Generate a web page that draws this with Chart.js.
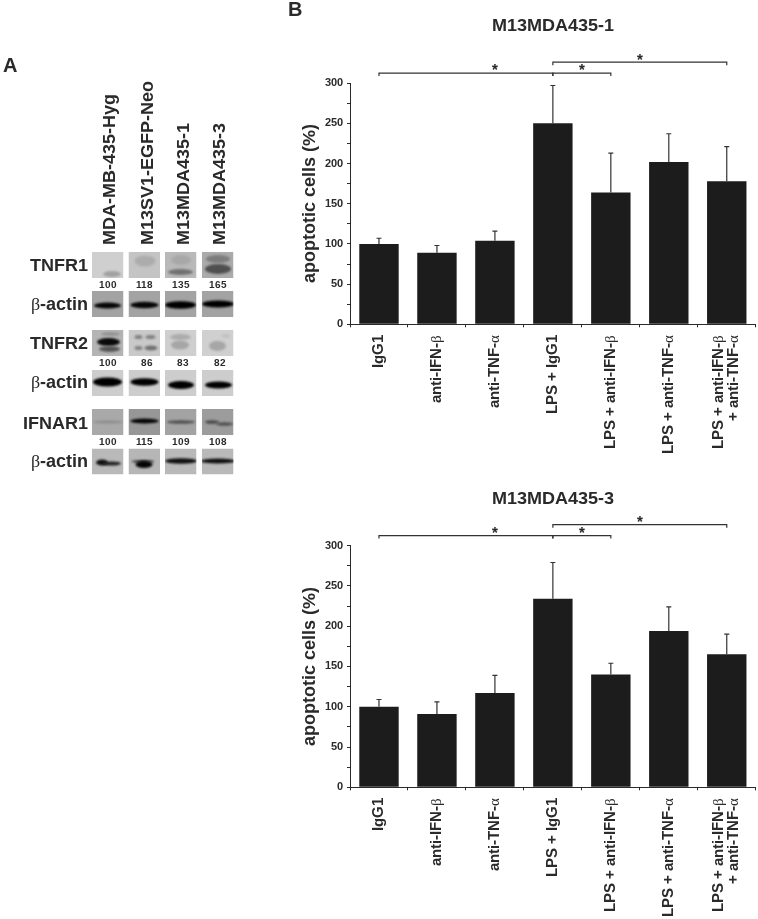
<!DOCTYPE html>
<html>
<head>
<meta charset="utf-8">
<title>Apoptotic cells</title>
<script src="https://cdn.jsdelivr.net/npm/chart.js@4"></script>
<style>
    /* Latin from Liberation Sans Bold, greek letters thin like the symbol font of the figure */
    @font-face { font-family: "MixSans"; font-weight: bold; src: local("Liberation Sans Bold"); }
    @font-face { font-family: "MixSans"; font-weight: bold; src: local("Liberation Serif"); unicode-range: U+0370-03FF; }
    html, body { margin: 0; padding: 0; background: #fff; }
    #page { position: relative; width: 758px; height: 919px; overflow: hidden; color: #2a2a2a;
            font-family: "MixSans", "Liberation Sans", Arial, sans-serif; font-weight: bold; }
    #page canvas { position: absolute; }
    .txt { position: absolute; white-space: nowrap; }
    .panel { font-size: 20px; line-height: 20px; }
    .lane { writing-mode: vertical-rl; transform: rotate(180deg); font-size: 18px; line-height: 20px; width: 20px; bottom: 674px; }
    .row { font-size: 18px; line-height: 20px; right: 670px; }
    .num { font-size: 10.4px; line-height: 12px; transform: translateX(-50%); }
</style>
</head>
<body>
<div id="page">
    <canvas id="blots" width="250" height="500" style="left:0;top:0"></canvas>
    <canvas id="chartTop" style="left:280px;top:0"></canvas>
    <canvas id="chartBottom" style="left:280px;top:470px"></canvas>
    <div class="txt panel" style="left:3px;top:55px">A</div>
    <div class="txt panel" style="left:288px;top:-1px">B</div>
</div>
<script>
// Panel B data
const categories = ['IgG1', 'anti-IFN-β', 'anti-TNF-α', 'LPS + IgG1', 'LPS + anti-IFN-β', 'LPS + anti-TNF-α',
    ['LPS + anti-IFN-β', '+ anti-TNF-α']];
const valuesTop = [100, 89, 104, 250, 164, 202, 178];
const errorsTop = [7, 9, 12, 47, 49, 35, 43];
const valuesBottom = [100, 91, 117, 234, 140, 194, 165];
const errorsBottom = [9, 15, 22, 45, 14, 30, 25];
const labeledTicks = [0, 50, 100, 150, 200, 250, 300];
// from index, to index, level on the y axis
const brackets = [[0, 3, 312.5], [3, 4, 312.5], [3, 6, 326]];
// star position on the x axis, level on the y axis
const stars = [[2, 315], [3.5, 315], [4.5, 328]];

// Panel A data
const laneNames = ['MDA-MB-435-Hyg', 'M13SV1-EGFP-Neo', 'M13MDA435-1', 'M13MDA435-3'];
const densityTnfr1 = [100, 118, 135, 165];
const densityTnfr2 = [100, 86, 83, 82];
const densityIfnar1 = [100, 115, 109, 108];

const inkColor = '#2a2a2a';
const barColor = '#1c1c1c';
const mixFont = '"MixSans", "Liberation Sans", Arial, sans-serif';
const xFontSize = 14.5;
const xLineHeight = 1.02;

// Error bars, brackets and stars
const annotations = {
    id: 'annotations',
    beforeDraw(chart) {
        // Chart.js hangs extra lines of a rotated label to the right of the tick, center them instead
        chart.scales.x.getLabelItems().forEach(item => {
            if (Array.isArray(item.label) && !item.centered) {
                item.options.translation[0] -= (item.label.length - 1) * xFontSize * xLineHeight / 2;
                item.centered = true;
            }
        });
    },
    afterDatasetsDraw(chart, args, opts) {
        const ctx = chart.ctx;
        const x = chart.scales.x;
        const y = chart.scales.y;
        ctx.save();
        ctx.strokeStyle = '#333';
        ctx.lineWidth = 1.2;
        opts.errors.forEach((err, i) => {
            const px = x.getPixelForValue(i);
            const top = y.getPixelForValue(opts.values[i] + err);
            ctx.beginPath();
            ctx.moveTo(px, y.getPixelForValue(opts.values[i]));
            ctx.lineTo(px, top);
            ctx.moveTo(px - 2.5, top);
            ctx.lineTo(px + 2.5, top);
            ctx.stroke();
        });
        brackets.forEach(b => {
            const x0 = x.getPixelForValue(b[0]);
            const x1 = x.getPixelForValue(b[1]);
            const py = y.getPixelForValue(b[2]);
            ctx.beginPath();
            ctx.moveTo(x0, py + 3);
            ctx.lineTo(x0, py);
            ctx.lineTo(x1, py);
            ctx.lineTo(x1, py + 3);
            ctx.stroke();
        });
        ctx.fillStyle = inkColor;
        ctx.font = 'bold 15px ' + mixFont;
        ctx.textAlign = 'center';
        ctx.textBaseline = 'middle';
        stars.forEach(s => {
            ctx.fillText('*', x.getPixelForValue(s[0]), y.getPixelForValue(s[1]));
        });
        ctx.restore();
    }
};

function makeChart(id, title, values, errors, width, height, titlePad, axisHeight) {
    const canvas = document.getElementById(id);
    canvas.width = width;
    canvas.height = height;
    return new Chart(canvas, {
        type: 'bar',
        data: {
            labels: categories,
            datasets: [{
                data: values,
                backgroundColor: barColor,
                borderWidth: 0,
                barPercentage: 0.68,
                categoryPercentage: 1
            }]
        },
        options: {
            responsive: false,
            animation: false,
            layout: { padding: { right: 3 } },
            plugins: {
                legend: { display: false },
                tooltip: { enabled: false },
                title: {
                    display: true,
                    text: title,
                    fullSize: false,
                    color: inkColor,
                    font: { family: mixFont, size: 18, weight: 'bold' },
                    padding: titlePad
                },
                annotations: { values, errors }
            },
            scales: {
                x: {
                    afterFit: scale => { scale.height = axisHeight; },
                    border: { color: inkColor, width: 1 },
                    grid: { offset: true, drawOnChartArea: false, tickLength: 3, tickColor: inkColor },
                    ticks: {
                        autoSkip: false,
                        minRotation: 90,
                        maxRotation: 90,
                        padding: 8,
                        color: inkColor,
                        font: { family: mixFont, size: xFontSize, weight: 'bold', lineHeight: xLineHeight }
                    }
                },
                y: {
                    min: 0,
                    max: 300,
                    afterFit: scale => { scale.width = 70; },
                    border: { color: inkColor, width: 1 },
                    grid: { drawOnChartArea: false, tickLength: 3, tickColor: inkColor },
                    title: {
                        display: true,
                        text: 'apoptotic cells (%)',
                        color: inkColor,
                        font: { family: mixFont, size: 18.3, weight: 'bold' },
                        padding: { top: 19, bottom: 0 }
                    },
                    ticks: {
                        stepSize: 25,
                        autoSkip: false,
                        padding: 4,
                        color: inkColor,
                        font: { family: mixFont, size: 11, weight: 'bold' },
                        callback: v => labeledTicks.includes(v) ? v : ''
                    }
                }
            }
        },
        plugins: [annotations]
    });
}

// canvases run a little past the page edge, the last rotated label reserves room on the right
const charts = [
    makeChart('chartTop', 'M13MDA435-1', valuesTop, errorsTop, 485, 470, { top: 15, bottom: 46.5 }, 145.7),
    makeChart('chartBottom', 'M13MDA435-3', valuesBottom, errorsBottom, 485, 449, { top: 18, bottom: 36 }, 131.7)
];

// Panel A text
const page = document.getElementById('page');
function addText(cls, text, style) {
    const el = document.createElement('div');
    el.className = 'txt ' + cls;
    el.textContent = text;
    el.style.cssText = style;
    page.appendChild(el);
}
[109, 147, 183, 219].forEach((x, i) => addText('lane', laneNames[i], `left:${x - 10}px`));
[['TNFR1', 255], ['β-actin', 294], ['TNFR2', 333], ['β-actin', 372], ['IFNAR1', 413], ['β-actin', 451]].forEach(r => {
    addText('row', r[0], `top:${r[1]}px`);
});
[107.7, 144.5, 181, 217.5].forEach((x, i) => addText('num', densityTnfr1[i], `left:${x}px;top:279px`));
[107.7, 146.7, 183, 220].forEach((x, i) => addText('num', densityTnfr2[i], `left:${x}px;top:357px`));
[107.7, 144.7, 181, 217.7].forEach((x, i) => addText('num', densityIfnar1[i], `left:${x}px;top:436px`));

// Panel A western blots: the photographs are sketched as blurred bands
const blotColumns = [92, 128.5, 165, 202];
const blotRows = [
    { top: 252, cells: [
        ['#cfcfcf', [[11, 29, 22, 6, '#a0a0a0']]],
        ['#c4c4c4', [[6, 27, 9, 11, '#acacac']]],
        ['#b9b9b9', [[3, 28, 20, 6, '#707070'], [6, 26, 8, 10, '#a8a8a8']]],
        ['#ababab', [[3, 29, 17, 10, '#4f4f4f'], [4, 28, 7, 8, '#7c7c7c']]]
    ] },
    { top: 291, cells: [
        ['#a3a3a3', [[2, 29, 14.5, 6, '#050505']]],
        ['#a3a3a3', [[2, 30, 14, 6.5, '#050505']]],
        ['#a3a3a3', [[0, 31, 14, 7.5, '#000000']]],
        ['#a3a3a3', [[0, 32, 13, 7, '#000000']]]
    ] },
    { top: 330, cells: [
        ['#b4b4b4', [[5, 28, 12, 8, '#0a0a0a'], [7, 28, 19, 6, '#555555'], [9, 28, 4, 3, '#8a8a8a']]],
        ['#c9c9c9', [[6, 14, 7, 4, '#808080'], [17, 27, 7, 4, '#808080'], [6, 14, 18, 4, '#808080'], [16, 29, 18, 5, '#707070']]],
        ['#cfcfcf', [[5, 26, 7, 6, '#acacac'], [6, 24, 15, 9, '#a6a6a6']]],
        ['#d0d0d0', [[7, 24, 16, 10, '#a6a6a6'], [20, 28, 6, 3, '#bcbcbc']]]
    ] },
    { top: 370, cells: [
        ['#cdcdcd', [[1, 30, 12, 9, '#000000']]],
        ['#cdcdcd', [[2, 30, 12, 7.5, '#000000']]],
        ['#cdcdcd', [[3, 29, 15, 8, '#000000']]],
        ['#cdcdcd', [[3, 30, 15, 7, '#000000']]]
    ] },
    { top: 409, cells: [
        ['#a9a9a9', [[1, 31, 13, 3, '#8c8c8c']]],
        ['#979797', [[2, 30, 12, 5, '#050505']]],
        ['#a3a3a3', [[2, 30, 13, 3.5, '#505050']]],
        ['#9c9c9c', [[3, 17, 13, 3.5, '#484848'], [14, 31, 15, 3.5, '#505050']]]
    ] },
    { top: 448.5, cells: [
        ['#b9b9b9', [[4, 16, 14, 6, '#111111'], [10, 29, 15, 4, '#222222']]],
        ['#b6b6b6', [[3, 26, 13, 3, '#333333'], [7, 24, 16, 7, '#050505']]],
        ['#b9b9b9', [[0, 32, 12.5, 5.5, '#111111']]],
        ['#b9b9b9', [[-1, 33, 12.5, 5, '#111111']]]
    ] }
];

function drawBlots() {
    const ctx = document.getElementById('blots').getContext('2d');
    const w = 31.5;
    const h = 26;
    blotRows.forEach(row => {
        row.cells.forEach((cell, c) => {
            const x = blotColumns[c];
            ctx.save();
            ctx.beginPath();
            ctx.rect(x, row.top, w, h);
            ctx.clip();
            ctx.fillStyle = cell[0];
            ctx.fillRect(x, row.top, w, h);
            ctx.filter = 'blur(1.2px)';
            cell[1].forEach(b => {
                ctx.fillStyle = b[4];
                ctx.beginPath();
                ctx.ellipse(x + (b[0] + b[1]) / 2, row.top + b[2], (b[1] - b[0]) / 2, b[3] / 2, 0, 0, Math.PI * 2);
                ctx.fill();
            });
            ctx.restore();
        });
    });
}
drawBlots();

// The mixed font comes in asynchronously, redraw once it is there
document.fonts.load('bold 14px MixSans', 'aβ').then(() => {
    charts.forEach(c => c.update());
}).catch(err => console.error('Font load error:', err));
</script>
</body>
</html>
